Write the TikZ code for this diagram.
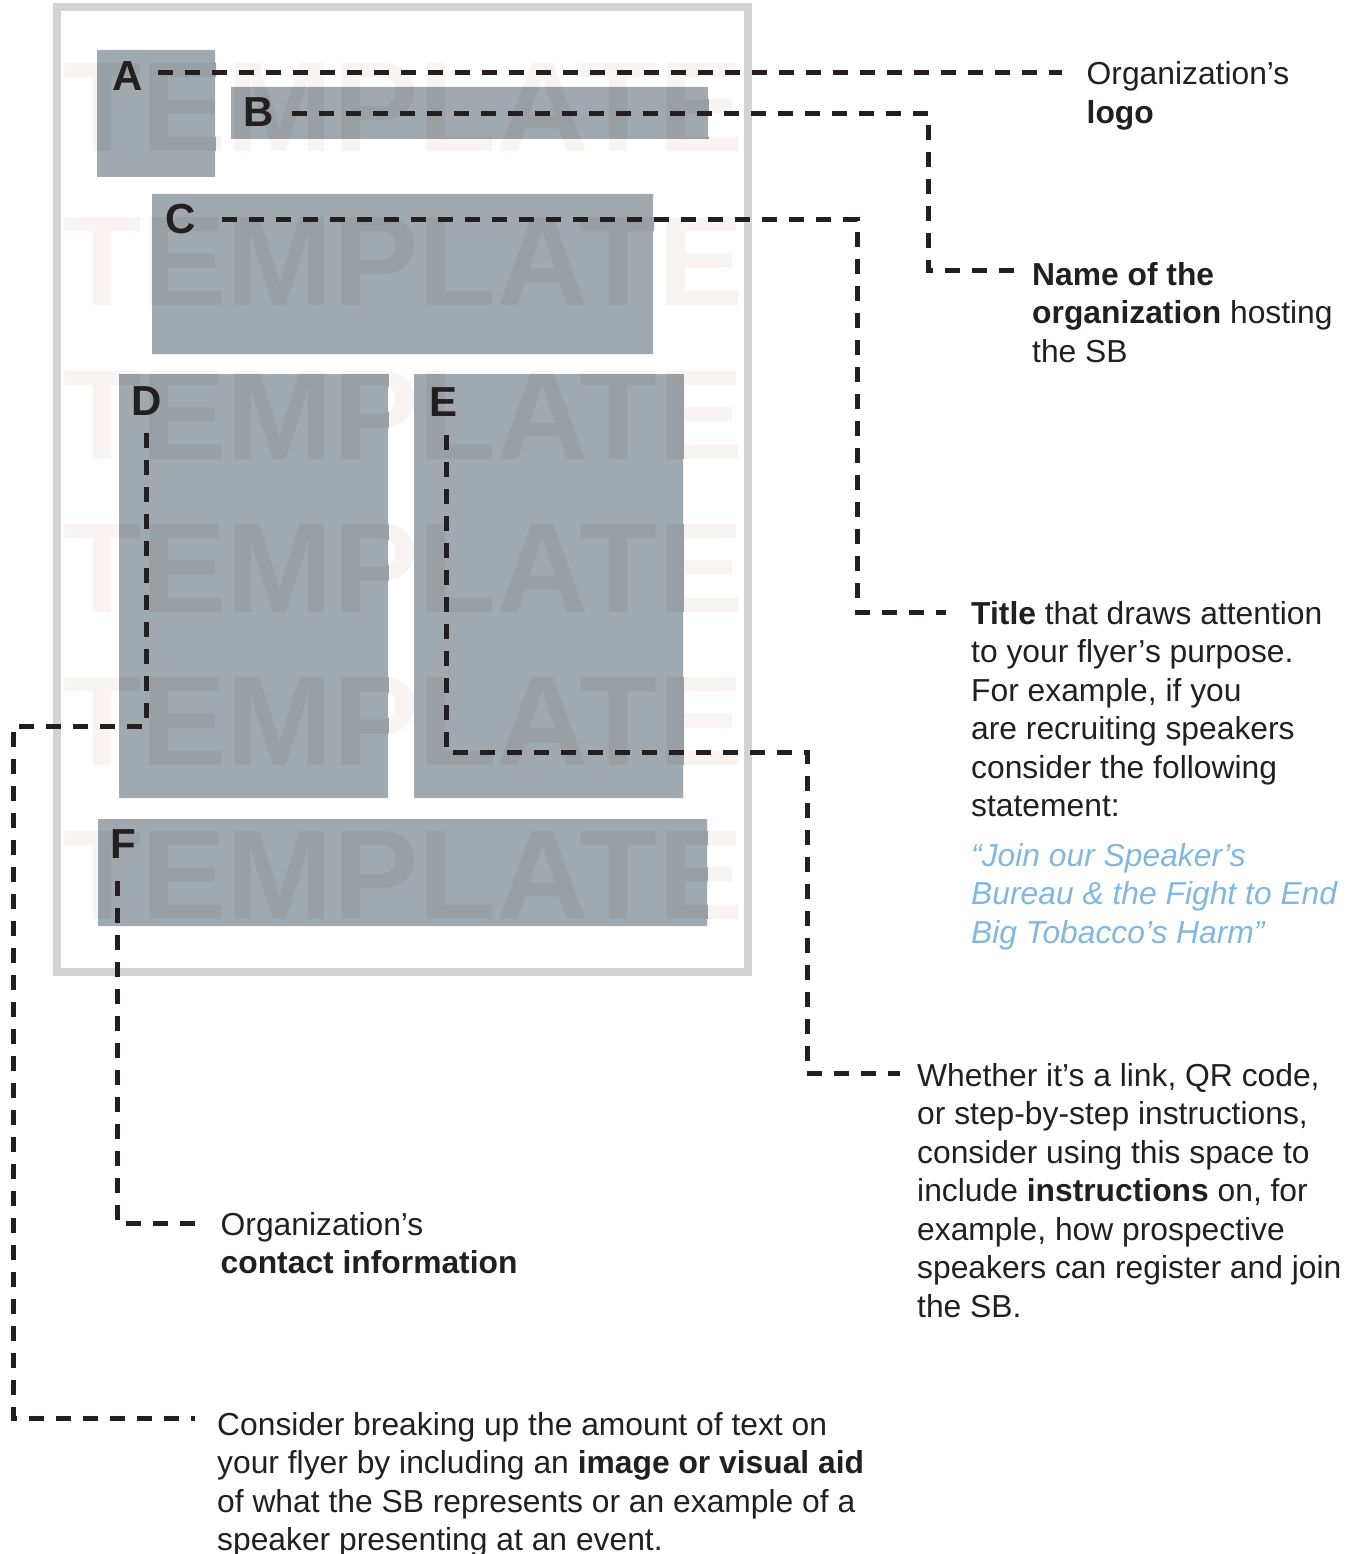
\documentclass[tikz,border=0pt]{standalone}
\usepackage{fontspec}
\setmainfont{Liberation Sans}
\definecolor{pageline}{RGB}{211,211,211}
\definecolor{blockgray}{RGB}{161,169,176}
\definecolor{markpink}{RGB}{249,243,241}
\definecolor{markgray}{RGB}{153,160,165}
\definecolor{inkdark}{RGB}{35,31,32}
\definecolor{quoteblue}{RGB}{128,184,224}
\newcommand\flyerblocks{(97,50) rectangle (215,177) (231,87) rectangle (708,139)
  (152,194) rectangle (653,354) (119,374) rectangle (388,798)
  (414,374) rectangle (683,798) (98,819) rectangle (707,926)}
\newcommand\notelines[1]{\begin{tabular}[t]{@{}l@{}}#1\end{tabular}}

\begin{document}
\begin{tikzpicture}[x=1pt, y=-1pt,
  watermark/.style={anchor=base west, inner sep=0, font=\bfseries\fontsize{128}{128}\selectfont},
  tag node/.style={anchor=base west, inner sep=0, text=inkdark, font=\bfseries\fontsize{42}{42}\selectfont},
  note node/.style={anchor=base west, inner sep=0, text=inkdark, font=\fontsize{31.8}{38.5}\selectfont},
  leader/.style={draw=inkdark, line width=5pt, dash pattern=on 15pt off 12pt}]
\useasboundingbox (0,0) rectangle (1356,1554);

\draw[pageline, line width=7.5pt] (57,7) rectangle (748,972);
\foreach \wy in {152,305,459,612,765,919}
  \node[watermark, text=markpink] (wm\wy) at (63,\wy) {TEMPLATE};
\fill[blockgray] \flyerblocks;
\begin{scope}
\clip \flyerblocks;
\foreach \wy in {152,305,459,612,765,919}
  \node[watermark, text=markgray] (wg\wy) at (63,\wy) {TEMPLATE};
\end{scope}

\node[tag node] (la) at (112,91) {A};
\node[tag node] (lb) at (243,127) {B};
\node[tag node] (lc) at (165,234) {C};
\node[tag node] (ld) at (131,415) {D};
\node[tag node] (le) at (429,416) {E};
\node[tag node] (lf) at (110,858) {F};

\node[note node] (ta) at (1086.5,85) {\notelines{Organization’s\\\textbf{logo}}};
\node[note node] (tb) at (1032,285) {\notelines{\textbf{Name of the}\\\textbf{organization} hosting\\the SB}};
\node[note node] (tc) at (971,624) {\notelines{\textbf{Title} that draws attention\\to your flyer’s purpose.\\For example, if you\\are recruiting speakers\\consider the following\\statement:\\[11pt]
  \textcolor{quoteblue}{\itshape “Join our Speaker’s}\\\textcolor{quoteblue}{\itshape Bureau \& the Fight to End}\\\textcolor{quoteblue}{\itshape Big Tobacco’s Harm”}}};
\node[note node] (te) at (917,1086) {\notelines{Whether it’s a link, QR code,\\or step-by-step instructions,\\consider using this space to\\include \textbf{instructions} on, for\\example, how prospective\\speakers can register and join\\the SB.}};
\node[note node] (tf) at (220.5,1235) {\notelines{Organization’s\\\textbf{contact information}}};
\node[note node] (td) at (217,1435) {\notelines{Consider breaking up the amount of text on\\your flyer by including an \textbf{image or visual aid}\\of what the SB represents or an example of a\\speaker presenting at an event.}};

\coordinate (ea) at ([xshift=-25pt,yshift=12pt]ta.base west);
\coordinate (eb) at ([xshift=-15pt,yshift=15pt]tb.base west);
\coordinate (ec) at ([xshift=-25pt,yshift=11.5pt]tc.base west);
\coordinate (ed) at ([xshift=-22pt,yshift=17pt]td.base west);
\coordinate (ee) at ([xshift=-17pt,yshift=13pt]te.base west);
\coordinate (ef) at ([xshift=-16pt,yshift=12pt]tf.base west);
\coordinate (kb) at (928,0);
\coordinate (kc) at (857,0);
\coordinate (kd) at (13,726);
\coordinate (ke) at (807,752.5);

\draw[leader] (la.east |- ea) ++(15,0) -- (ea);
\draw[leader] (lb.east) ++(18,1) -| (kb |- eb) -- (eb);
\draw[leader] (lc.east) ++(26,0) -| (kc |- ec) -- (ec);
\draw[leader] (ld.south) ++(0,18) |- (kd) |- (ed);
\draw[leader] (le.south) ++(3,19) |- (ke) |- (ee);
\draw[leader] (lf.south) ++(-6,23) |- (ef);

\end{tikzpicture}
\end{document}
